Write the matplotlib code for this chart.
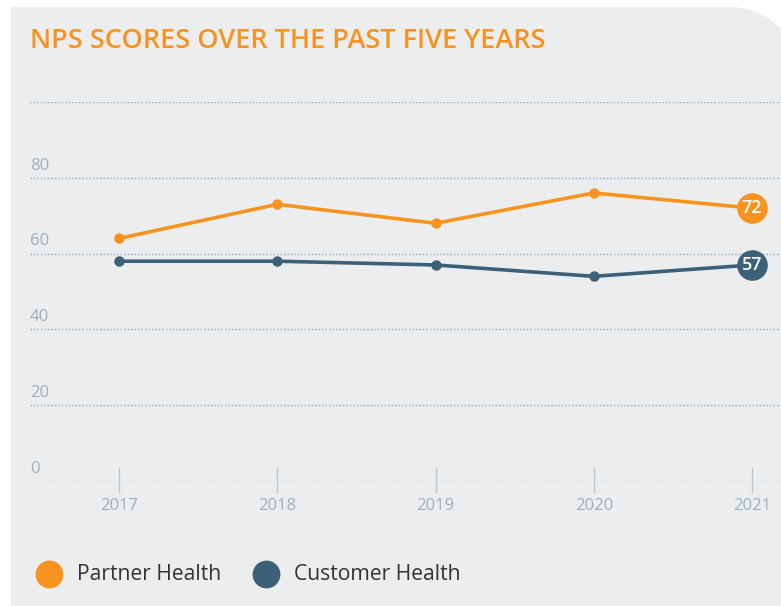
import matplotlib

matplotlib.use("Agg")
import matplotlib.pyplot as plt
from matplotlib.patches import PathPatch
from matplotlib.path import Path
from matplotlib.lines import Line2D

plt.rcParams["font.family"] = ["Open Sans", "DejaVu Sans"]

years = [2017, 2018, 2019, 2020, 2021]
partner = [64, 73, 68, 76, 72]
customer = [58, 58, 57, 54, 57]
y_ticks = [0, 20, 40, 60, 80]
grid_levels = [0, 20, 40, 60, 80, 100]
series_names = ["Partner Health", "Customer Health"]

ORANGE = "#f7931e"
BLUE = "#3d6079"
PANEL = "#ecedef"
GRID = "#8fa8b8"
LABEL = "#9bb0bf"

W, H = 781, 606
fig = plt.figure(figsize=(W / 100, H / 100), dpi=100)
fig.patch.set_facecolor("white")


def fp(x, y):
    # pixel (from top-left) -> figure fraction
    return (x / W, 1 - y / H)


# grey panel, only the top-right corner is rounded
R, k = 70, 0.5523
verts = [fp(11, H + 5), fp(11, 7), fp(730, 7),
         fp(730 + k * R, 7), fp(800, 77 - k * R), fp(800, 77),
         fp(800, H + 5), fp(11, H + 5)]
codes = [Path.MOVETO, Path.LINETO, Path.LINETO,
         Path.CURVE4, Path.CURVE4, Path.CURVE4,
         Path.LINETO, Path.CLOSEPOLY]
panel = PathPatch(Path(verts, codes), transform=fig.transFigure,
                  facecolor=PANEL, edgecolor="none", zorder=-10)
fig.patches.append(panel)

fig.text(30 / W, 1 - 41 / H, "NPS SCORES OVER THE PAST FIVE YEARS",
         color=ORANGE, fontsize=19.5, fontweight="semibold", va="center", ha="left")

ax = fig.add_axes([30 / W, 1 - 481 / H, 751 / W, (481 - 102) / H])
ax.set_facecolor("none")
px_per_year = (752 - 119) / 4
ax.set_xlim(2017 - 89 / px_per_year, 2021 + 29 / px_per_year)
ax.set_ylim(0, 100)
for s in ax.spines.values():
    s.set_visible(False)
ax.set_xticks([])
ax.set_yticks([])

for lv in grid_levels:
    ax.axhline(lv, color=GRID, lw=1.0, ls=(0, (1, 1.5)), zorder=1)
for t in y_ticks:
    ax.annotate(str(t), xy=(0, t), xycoords=("axes fraction", "data"),
                xytext=(0, 3), textcoords="offset points",
                color=LABEL, fontsize=12, ha="left", va="bottom")

ax.vlines(years, -3.2, 3.7, color="#b9c7d1", lw=1.0, clip_on=False, zorder=1)
for yr in years:
    ax.annotate(str(yr), xy=(yr, 0), xycoords="data",
                xytext=(0, -18), textcoords="offset points",
                color=LABEL, fontsize=12, ha="center", va="center",
                annotation_clip=False)

for vals, col in [(partner, ORANGE), (customer, BLUE)]:
    ax.plot(years, vals, color=col, lw=2.6, marker="o", ms=6.5, zorder=3,
            clip_on=False)
    ax.plot(years[-1], vals[-1], marker="o", ms=21, color=col, zorder=4,
            clip_on=False)
    ax.text(years[-1], vals[-1], str(vals[-1]), color="white", fontsize=13,
            fontweight="semibold", ha="center", va="center", zorder=5)

# legend
for x0, col, name in [(49, ORANGE, series_names[0]), (266, BLUE, series_names[1])]:
    fig.add_artist(Line2D([x0 / W], [1 - 574 / H], marker="o", ms=19,
                          color=col, transform=fig.transFigure, lw=0))
    fig.text((x0 + 28) / W, 1 - 574 / H, name, color="#333333",
             fontsize=15.2, ha="left", va="center")

fig.savefig("out.png", dpi=100, facecolor=fig.get_facecolor())
